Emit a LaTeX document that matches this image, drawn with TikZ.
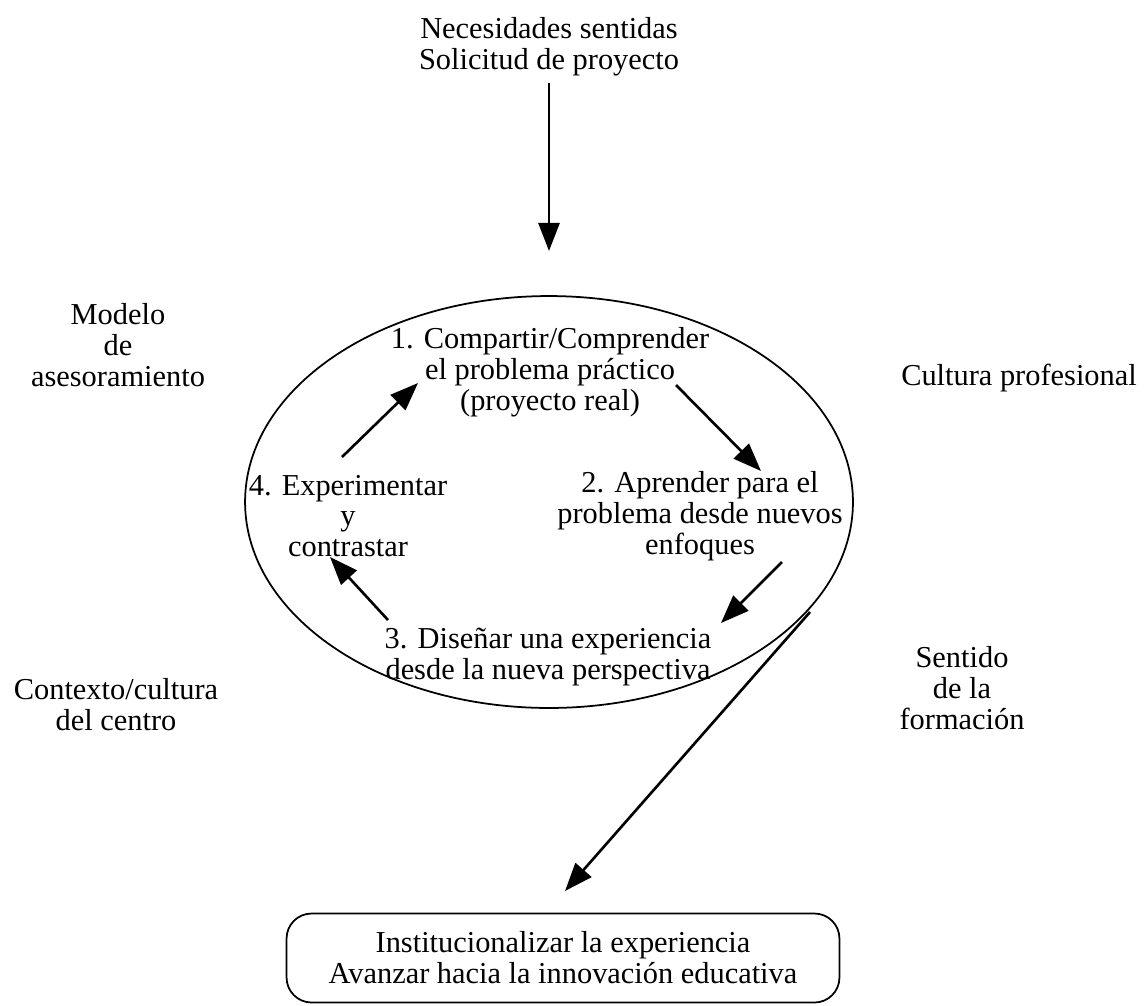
\documentclass[tikz,border=0pt]{standalone}
\usepackage{fontspec}
\setmainfont{Liberation Serif}
\usetikzlibrary{arrows.meta,shapes.geometric}
\begin{document}
\begin{tikzpicture}[x=0.02cm,y=-0.02cm,
  txt/.style={align=center,inner sep=0pt,font=\fontsize{17.3}{17.6}\selectfont},
  arr/.style={line width=1.5pt,-{Triangle[length=16pt,width=12pt]}},
  frame/.style={draw,line width=1pt}]
\useasboundingbox (0,0) rectangle (1148,1005);

% entry text and arrow
\node[txt] (need) at (549,47) {Necesidades sentidas\\Solicitud de proyecto};
\coordinate (needA) at (549,83);
\coordinate (needB) at (549,251);
\draw[arr] (needA) -- (needB);

% central cycle
\node[frame,ellipse,inner sep=0pt,minimum width=12.16cm,minimum height=8.24cm] (cyc) at (549,502) {};
\node[txt] (s1) at (550,372) {1. Compartir/Comprender\\el problema práctico\\(proyecto real)};
\node[txt] (s2) at (700,516) {2. Aprender para el\\problema desde nuevos\\enfoques};
\node[txt] (s3) at (548,657) {3. Diseñar una experiencia\\desde la nueva perspectiva};
\node[txt] (s4) at (348,516) {4. Experimentar\\y\\contrastar};

\coordinate (a41) at (342,457); \coordinate (b41) at (418,383);
\coordinate (a12) at (676,385); \coordinate (b12) at (761,471);
\coordinate (a23) at (782,562); \coordinate (b23) at (721,623);
\coordinate (a34) at (388,620); \coordinate (b34) at (330,557);
\draw[arr] (a41) -- (b41);
\draw[arr] (a12) -- (b12);
\draw[arr] (a23) -- (b23);
\draw[arr] (a34) -- (b34);

% surrounding influences
\node[txt] (mod) at (118,345) {Modelo\\de\\asesoramiento};
\node[txt] (cult) at (1019,378) {Cultura profesional};
\node[txt] (ctx) at (116,705) {Contexto/cultura\\del centro};
\node[txt] (sent) at (962,688) {Sentido\\de la\\formación};

% outcome
\node[frame,rounded corners=0.5cm,minimum width=11.06cm,minimum height=1.78cm,txt] (inst) at (563,958) {Institucionalizar la experiencia\\Avanzar hacia la innovación educativa};
\coordinate (outA) at (810,612);
\coordinate (outB) at (565,891);
\draw[arr] (outA) -- (outB);
\end{tikzpicture}
\end{document}
